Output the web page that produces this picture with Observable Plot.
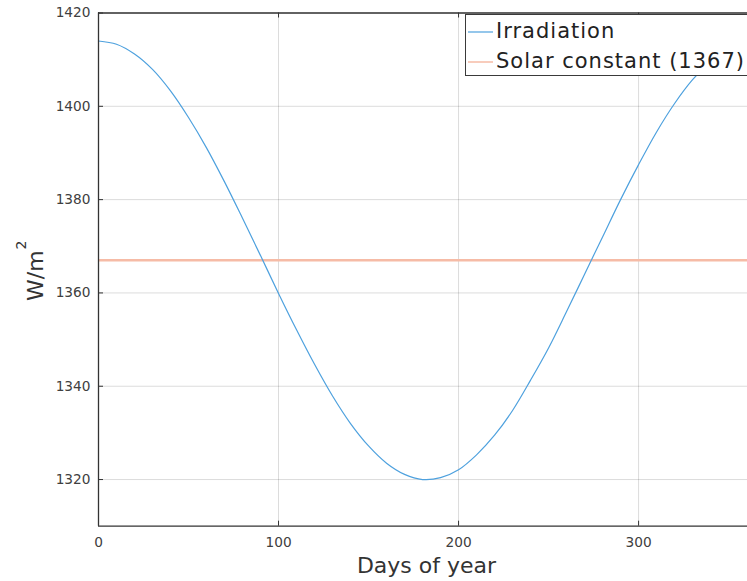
<!DOCTYPE html>
<html>
<head>
<meta charset="utf-8">
<script src="https://cdn.jsdelivr.net/npm/d3@7"></script>
<script src="https://cdn.jsdelivr.net/npm/@observablehq/plot@0.6"></script>
<style>
  html, body { margin: 0; padding: 0; background: #fff; }
  #wrap { position: relative; width: 747px; height: 581px; font-family: "DejaVu Sans", Verdana, sans-serif; overflow: hidden; }
  #chart, #labels { position: absolute; left: 0; top: 0; }
  #legend {
    position: absolute; left: 465px; top: 14px; width: 300px; height: 62px;
    border: 1px solid #3a3a3a; background: #fff; box-sizing: border-box;
    font-size: 21px; letter-spacing: 1px; color: #222; line-height: 1;
  }
  .row { position: absolute; left: 2px; display: flex; align-items: center; white-space: nowrap; }
  .row svg { margin-right: 3px; display: block; }
</style>
</head>
<body>
<div id="wrap">
  <div id="chart"></div>
  <svg id="labels" width="747" height="581" font-family="DejaVu Sans, Verdana, sans-serif" fill="#333">
    <text x="426.5" y="573" font-size="22" text-anchor="middle">Days of year</text>
    <text transform="translate(43,301) rotate(-90)" font-size="22">W/m<tspan dx="1" dy="-17" font-size="14">2</tspan></text>
  </svg>
  <div id="legend">
    <div class="row" style="top:6px"><svg width="25" height="6"><line id="sw1" x1="0" x2="25" y1="3" y2="3"/></svg><span>Irradiation</span></div>
    <div class="row" style="top:36px"><svg width="25" height="6"><line id="sw2" x1="0" x2="25" y1="3" y2="3"/></svg><span>Solar constant (1367)</span></div>
  </div>
</div>
<script>
// Day of year and top-of-atmosphere irradiation (W/m²)
const days = [0, 10, 20, 30, 40, 50, 60, 70, 80, 90, 100, 110, 120, 130, 140, 150, 160, 170, 180,
              190, 200, 210, 220, 230, 240, 250, 260, 270, 280, 290, 300, 310, 320, 330, 340, 350, 360, 365];
const irradiation = [1414.0, 1413.3, 1411.2, 1407.9, 1403.3, 1397.6, 1391.1, 1383.8, 1376.0, 1368.0,
                     1359.9, 1352.1, 1344.7, 1337.9, 1332.0, 1327.2, 1323.5, 1321.1, 1320.0,
                     1320.4, 1322.1, 1325.3, 1329.5, 1334.8, 1341.3, 1348.2, 1356.0, 1364.0, 1372.0,
                     1380.0, 1387.5, 1394.5, 1400.6, 1405.7, 1409.6, 1412.4, 1413.8, 1414.0];
const solarConstant = 1367;
const xTicks = [0, 100, 200, 300];
const yTicks = [1320, 1340, 1360, 1380, 1400, 1420];

const blue = "#4ea1de";
const salmon = "#f6bba6";
const axisColor = "#333";

const width = 747, height = 581;
const margin = {left: 98, right: 0, top: 12.5, bottom: 55.3};
const innerW = width - margin.left - margin.right;
const innerH = height - margin.top - margin.bottom;
const tickLen = 5;

const series = days.map((d, i) => ({day: d, value: irradiation[i]}));

const chart = Plot.plot({
  width,
  height,
  marginLeft: margin.left,
  marginRight: margin.right,
  marginTop: margin.top,
  marginBottom: margin.bottom,
  style: {fontFamily: "DejaVu Sans, Verdana, sans-serif", fontSize: "13.7px", color: "#404040", background: "#fff"},
  x: {domain: [0, 360.5]},
  y: {domain: [1310, 1420]},
  marks: [
    Plot.gridX(xTicks, {stroke: "#000", strokeOpacity: 0.14}),
    Plot.gridY(yTicks, {stroke: "#000", strokeOpacity: 0.14}),
    Plot.ruleY([solarConstant], {stroke: salmon, strokeWidth: 2.6}),
    Plot.line(series, {x: "day", y: "value", stroke: blue, strokeWidth: 1.2, curve: "catmull-rom", clip: true}),
    // inward tick marks on the bottom, top and left edges of the box
    Plot.tickX(xTicks, {x: d => d, stroke: axisColor, insetTop: innerH - tickLen}),
    Plot.tickX(xTicks, {x: d => d, stroke: axisColor, insetBottom: innerH - tickLen}),
    Plot.tickY(yTicks, {y: d => d, stroke: axisColor, insetRight: innerW - tickLen}),
    Plot.axisX(xTicks, {anchor: "bottom", tickSize: 0, tickPadding: 11, tickFormat: d => String(d), label: null}),
    Plot.axisY(yTicks, {anchor: "left", tickSize: 0, tickPadding: 8, tickFormat: d => String(d), label: null}),
    Plot.ruleX([0], {stroke: axisColor, strokeWidth: 1.3}),
    Plot.ruleY([1310, 1420], {stroke: axisColor, strokeWidth: 1.3})
  ]
});
document.getElementById("chart").append(chart);

const sw1 = document.getElementById("sw1");
sw1.setAttribute("stroke", blue);
sw1.setAttribute("stroke-width", 1.2);
const sw2 = document.getElementById("sw2");
sw2.setAttribute("stroke", salmon);
sw2.setAttribute("stroke-width", 1.5);
</script>
</body>
</html>
